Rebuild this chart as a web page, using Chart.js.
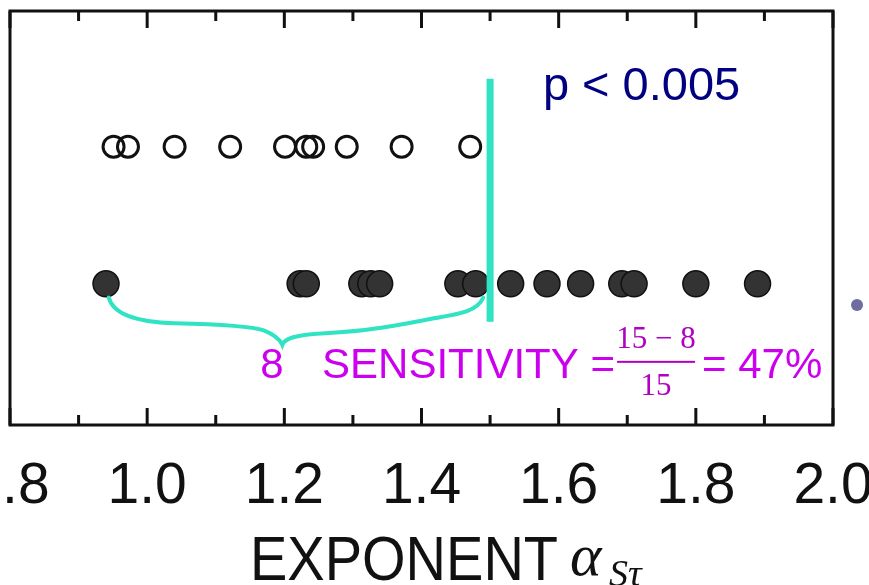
<!DOCTYPE html>
<html>
<head>
<meta charset="utf-8">
<script src="https://cdn.jsdelivr.net/npm/chart.js@4"></script>
<style>
  html, body { margin: 0; padding: 0; background: #fff; }
  #wrap { width: 869px; height: 585px; }
</style>
</head>
<body>
<div id="wrap"><canvas id="expChart"></canvas></div>
<script>
// exponent values
const openExponents = [0.951, 0.972, 1.040, 1.121, 1.201, 1.232, 1.242, 1.291, 1.371, 1.471];
const filledExponents = [0.940, 1.223, 1.232, 1.313, 1.326, 1.339, 1.453, 1.479,
                         1.530, 1.583, 1.632, 1.692, 1.710, 1.800, 1.890];
const openRow = 2;
const filledRow = 1;
const threshold = 1.5;
const thresholdSpan = [2.496, 0.723];   // vertical extent of the cutoff line (y units)
const xTicks = [0.8, 1.0, 1.2, 1.4, 1.6, 1.8, 2.0];
const minorTicks = [0.9, 1.1, 1.3, 1.5, 1.7, 1.9];
const falseNeg = 8;
const total = 15;

const teal = '#2fe3c3';
const magenta = '#cc00ee';
const sans = '"Liberation Sans", Arial, sans-serif';
const serif = '"Liberation Serif", "Times New Roman", serif';

const boxAndAnnotations = {
    id: 'boxAndAnnotations',
    afterDatasetsDraw(chart) {
        const { ctx, chartArea: a, scales: { x, y } } = chart;
        const P = (vx, vy) => [x.getPixelForValue(vx), y.getPixelForValue(vy)];
        ctx.save();

        // curly brace under the false negatives
        ctx.strokeStyle = teal;
        ctx.lineWidth = 4;
        ctx.lineCap = 'round';
        ctx.beginPath();
        const bz = (c1, c2, e) => ctx.bezierCurveTo(...P(...c1), ...P(...c2), ...P(...e));
        ctx.moveTo(...P(filledExponents[0] + 0.004, 0.90));
        bz([0.950, 0.78], [0.985, 0.72], [1.04, 0.712]);
        bz([1.10, 0.705], [1.15, 0.695], [1.17, 0.66]);
        bz([1.185, 0.63], [1.194, 0.59], [1.197, 0.555]);
        bz([1.200, 0.60], [1.215, 0.63], [1.26, 0.64]);
        bz([1.32, 0.652], [1.37, 0.70], [1.42, 0.75]);
        bz([1.455, 0.78], [1.482, 0.80], [1.49, 0.90]);
        ctx.stroke();

        // frame
        ctx.strokeStyle = '#111';
        ctx.lineWidth = 3;
        ctx.lineCap = 'butt';
        ctx.strokeRect(a.left, a.top, a.right - a.left, a.bottom - a.top);

        // inward tick marks, top and bottom
        const tick = (v, len) => {
            const px = x.getPixelForValue(v);
            ctx.beginPath();
            ctx.moveTo(px, a.top); ctx.lineTo(px, a.top + len);
            ctx.moveTo(px, a.bottom); ctx.lineTo(px, a.bottom - len);
            ctx.stroke();
        };
        xTicks.forEach(v => tick(v, 17));
        minorTicks.forEach(v => tick(v, 10));
        ctx.restore();
    },
    afterDraw(chart) {
        const { ctx, scales: { x, y } } = chart;
        ctx.save();
        ctx.textBaseline = 'alphabetic';
        ctx.textAlign = 'left';

        // p value
        ctx.fillStyle = '#000080';
        ctx.font = '47px ' + sans;
        ctx.fillText('p < 0.005', x.getPixelForValue(1.577), y.getPixelForValue(2.343));

        // sensitivity text
        const base = y.getPixelForValue(0.314);
        ctx.fillStyle = magenta;
        ctx.font = '42px ' + sans;
        ctx.fillText(String(falseNeg), x.getPixelForValue(1.165), base);
        ctx.fillText('SENSITIVITY =', x.getPixelForValue(1.255), base);

        const fracX = x.getPixelForValue(1.742);
        ctx.fillStyle = '#b000c0';
        ctx.font = '31px ' + serif;
        ctx.textAlign = 'center';
        ctx.fillText(total + ' \u2212 ' + falseNeg, fracX, base - 30);
        ctx.fillText(String(total), fracX, base + 17);
        ctx.fillRect(fracX - 39, base - 17, 78, 2);

        ctx.fillStyle = magenta;
        ctx.font = '42px ' + sans;
        ctx.textAlign = 'left';
        const pct = Math.round((total - falseNeg) / total * 100);
        ctx.fillText('= ' + pct + '%', x.getPixelForValue(1.809), base);

        // axis title
        ctx.fillStyle = '#111';
        ctx.save();
        ctx.translate(0, 580);
        ctx.scale(1, 1.12);
        ctx.font = '56px ' + sans;
        ctx.fillText('EXPONENT', 250, 0);
        ctx.restore();
        ctx.font = 'italic 60px ' + serif;
        ctx.fillText('\u03b1', 570, 575);
        ctx.font = 'italic 38px ' + serif;
        ctx.fillText('S\u03c4', 609, 586);

        // stray slide bullet
        ctx.fillStyle = '#6d6da0';
        ctx.beginPath();
        ctx.arc(857, 305, 6, 0, Math.PI * 2);
        ctx.fill();
        ctx.restore();
    }
};

new Chart(document.getElementById('expChart'), {
    type: 'scatter',
    data: {
        datasets: [
            {
                type: 'line',
                data: thresholdSpan.map(v => ({ x: threshold, y: v })),
                borderColor: teal,
                borderWidth: 7,
                pointRadius: 0,
                borderCapStyle: 'butt'
            },
            {
                data: openExponents.map(v => ({ x: v, y: openRow })),
                pointRadius: 10.5,
                borderWidth: 3,
                borderColor: '#111',
                backgroundColor: 'rgba(0,0,0,0)'
            },
            {
                data: filledExponents.map(v => ({ x: v, y: filledRow })),
                pointRadius: 13,
                borderWidth: 1.5,
                borderColor: '#111',
                backgroundColor: '#333'
            }
        ]
    },
    options: {
        responsive: true,
        maintainAspectRatio: false,
        animation: false,
        events: [],
        layout: { autoPadding: false, padding: { left: 10, right: 36, top: 11, bottom: 70 } },
        plugins: { legend: { display: false }, tooltip: { enabled: false } },
        scales: {
            x: {
                type: 'linear',
                min: 0.8,
                max: 2.0,
                afterBuildTicks: s => { s.ticks = xTicks.map(v => ({ value: v })); },
                afterFit: s => { s.height = 90; s.paddingLeft = 0; s.paddingRight = 0; },
                grid: { display: false, drawTicks: false },
                border: { display: false },
                ticks: {
                    autoSkip: false,
                    maxRotation: 0,
                    padding: 28,
                    color: '#111',
                    font: { family: sans, size: 57 },
                    callback: v => v.toFixed(1)
                }
            },
            y: {
                display: false,
                min: -0.03,
                max: 2.99
            }
        }
    },
    plugins: [boxAndAnnotations]
});
</script>
</body>
</html>
